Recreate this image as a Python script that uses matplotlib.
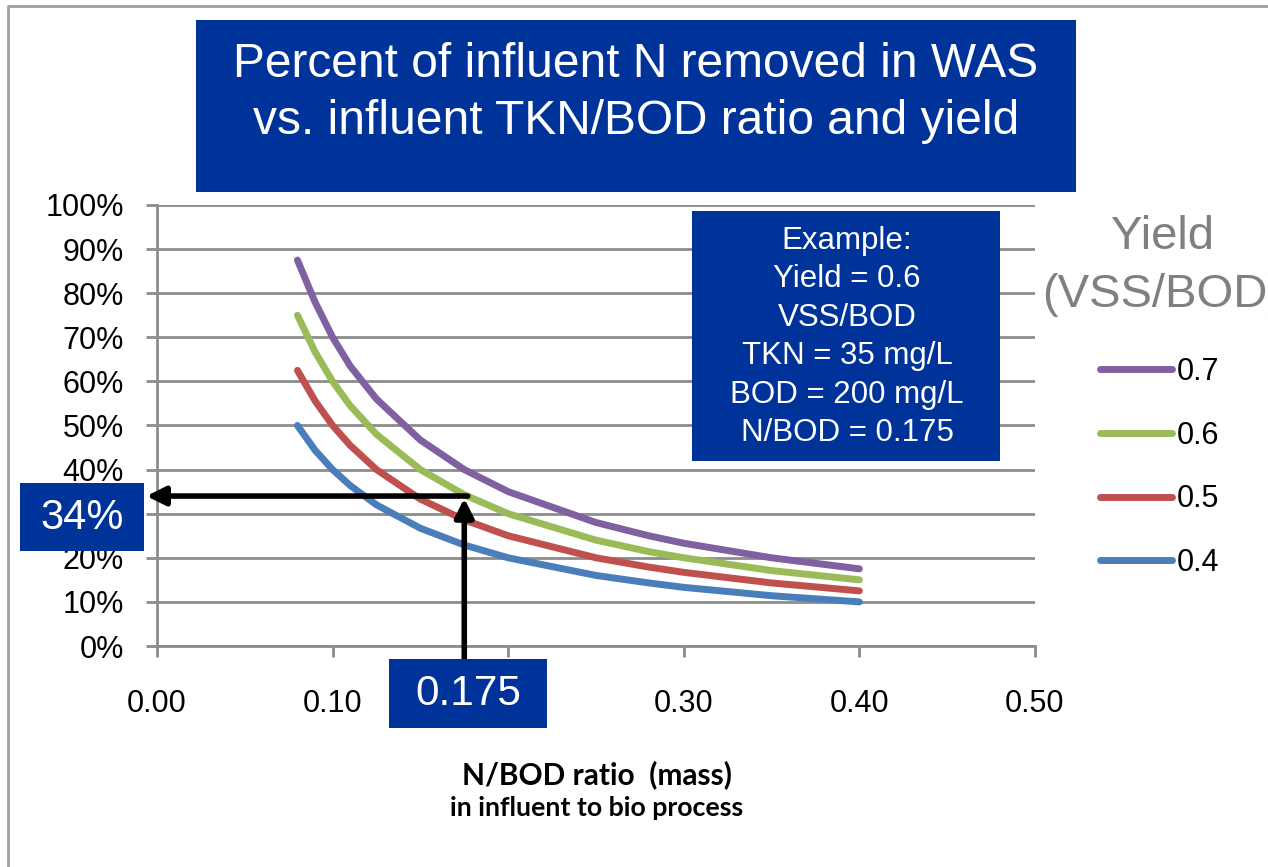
import matplotlib
matplotlib.use("Agg")
import matplotlib.pyplot as plt
from matplotlib.lines import Line2D
from matplotlib.patches import Rectangle
from matplotlib.ticker import PercentFormatter

# ---------------------------------------------------------------------------
# Data
# ---------------------------------------------------------------------------
ratio = [0.08, 0.09, 0.10, 0.11, 0.125, 0.15, 0.175, 0.20, 0.25, 0.28, 0.30, 0.35, 0.40]
yields = ["0.7", "0.6", "0.5", "0.4"]
pct_y07 = [0.875, 0.78, 0.70, 0.635, 0.56, 0.467, 0.40, 0.35, 0.28, 0.25, 0.233, 0.20, 0.175]
pct_y06 = [0.75, 0.667, 0.60, 0.545, 0.48, 0.40, 0.343, 0.30, 0.24, 0.214, 0.20, 0.171, 0.15]
pct_y05 = [0.625, 0.556, 0.50, 0.455, 0.40, 0.333, 0.286, 0.25, 0.20, 0.179, 0.167, 0.143, 0.125]
pct_y04 = [0.50, 0.444, 0.40, 0.364, 0.32, 0.267, 0.229, 0.20, 0.16, 0.143, 0.133, 0.114, 0.10]
series = [pct_y07, pct_y06, pct_y05, pct_y04]
colors = ["#7F60A1", "#9BBB59", "#C0504D", "#4A7EBB"]

example_ratio = 0.175
example_pct = 0.34

xticks = [0.0, 0.1, 0.2, 0.3, 0.4, 0.5]
yticks = [i / 10 for i in range(11)]

NAVY = "#003399"
GRID = "#8C8C8C"
W, H = 1268, 867

plt.rcParams["font.family"] = ["Liberation Sans", "DejaVu Sans"]

fig = plt.figure(figsize=(W / 100, H / 100), dpi=100)
ax = fig.add_axes([0.1238, 0.2549, 0.6924, 0.5087])

for vals, col, lab in zip(series, colors, yields):
    ax.plot(ratio, vals, color=col, lw=5, solid_capstyle="round", label=lab, zorder=3)

ax.set_xlim(0, 0.5)
ax.set_ylim(0, 1.0)
ax.set_xticks(xticks)
ax.set_xticklabels([f"{t:.2f}" for t in xticks])
ax.set_yticks(yticks)
ax.yaxis.set_major_formatter(PercentFormatter(1.0, decimals=0))
ax.grid(axis="y", color=GRID, lw=2)
ax.set_axisbelow(True)
for s in ["top", "right"]:
    ax.spines[s].set_visible(False)
for s in ["left", "bottom"]:
    ax.spines[s].set_color(GRID)
    ax.spines[s].set_linewidth(2)
ax.tick_params(axis="y", direction="out", length=8, width=2, color=GRID,
               labelsize=22, pad=16)
ax.tick_params(axis="x", direction="out", length=8, width=2, color=GRID,
               labelsize=22, pad=23)

# example arrows
ax.annotate("", xy=(-0.006, example_pct), xytext=(example_ratio + 0.002, example_pct),
            arrowprops=dict(arrowstyle="-|>", color="black", lw=4,
                            mutation_scale=28, shrinkA=0, shrinkB=0),
            annotation_clip=False, zorder=5)
ax.annotate("", xy=(example_ratio, example_pct - 0.005), xytext=(example_ratio, -0.03),
            arrowprops=dict(arrowstyle="-|>", color="black", lw=4,
                            mutation_scale=28, shrinkA=0, shrinkB=0),
            annotation_clip=False, zorder=5)

# legend (title drawn separately so it can run off the slide like the original)
handles = [Line2D([0], [0], color=c, lw=5, solid_capstyle="round") for c in colors]
leg = ax.legend(handles, yields, frameon=False, loc="upper left",
                bbox_to_anchor=(1100 / W, 1 - 357 / H),
                bbox_transform=fig.transFigure, fontsize=22, borderpad=0,
                borderaxespad=0, handlelength=2.35, handletextpad=0.15,
                labelspacing=1.1)
leg.set_clip_on(False)
fig.text(1163 / W, 1 - 266 / H, "Yield\n(VSS/BOD)", ha="center", va="center",
         fontsize=34, color="#808080", linespacing=1.4)

# title box
fig.patches.append(Rectangle((196 / W, 1 - 192 / H), 880 / W, 172 / H,
                             transform=fig.transFigure, facecolor=NAVY,
                             edgecolor="none", zorder=1))
fig.text(636 / W, 1 - 93 / H,
         "Percent of influent N removed in WAS\nvs. influent TKN/BOD ratio and yield",
         ha="center", va="center", color="white", fontsize=34.5, linespacing=1.34)

# example box
fig.patches.append(Rectangle((692 / W, 1 - 461 / H), 308 / W, 250 / H,
                             transform=fig.transFigure, facecolor=NAVY,
                             edgecolor="none", zorder=4))
fig.text(847 / W, 1 - 337 / H,
         "Example:\nYield = 0.6\nVSS/BOD\nTKN = 35 mg/L\nBOD = 200 mg/L\nN/BOD = 0.175",
         ha="center", va="center", color="white", fontsize=22.5, linespacing=1.37,
         zorder=5)

# value boxes
fig.patches.append(Rectangle((20 / W, 1 - 551 / H), 124 / W, 68 / H,
                             transform=fig.transFigure, facecolor=NAVY,
                             edgecolor="none", zorder=4))
fig.text(82 / W, 1 - 518 / H, "34%", ha="center", va="center",
         color="white", fontsize=30, zorder=5)
fig.patches.append(Rectangle((389 / W, 1 - 728 / H), 158 / W, 69 / H,
                             transform=fig.transFigure, facecolor=NAVY,
                             edgecolor="none", zorder=4))
fig.text(468 / W, 1 - 694 / H, "0.175", ha="center", va="center",
         color="white", fontsize=30.5, zorder=5)

# axis title
fig.text(597 / W, 1 - 775 / H, "N/BOD ratio  (mass)", ha="center", va="center",
         fontsize=21.5, fontweight="bold", family=["Lato", "DejaVu Sans"])
fig.text(597 / W, 1 - 808 / H, "in influent to bio process", ha="center",
         va="center", fontsize=19.3, fontweight="bold", family=["Lato", "DejaVu Sans"])

# slide frame (left and top edges visible)
fig.add_artist(Line2D([8 / W, 8 / W, 1], [0, 1 - 6 / H, 1 - 6 / H],
                      transform=fig.transFigure, color="#A0A0A0", lw=2))

fig.savefig("out.png", dpi=100)
